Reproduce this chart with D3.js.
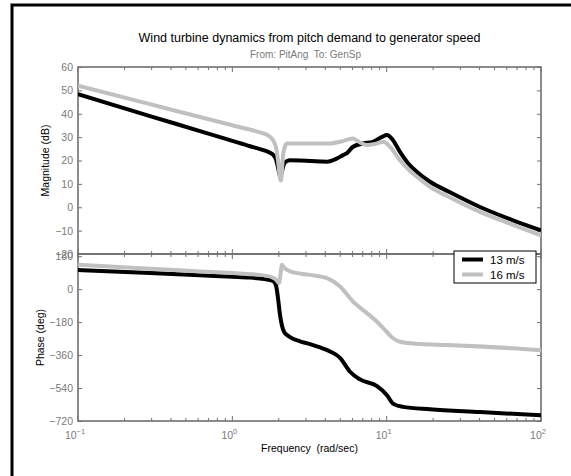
<!DOCTYPE html>
<html><head><meta charset="utf-8">
<script src="https://cdn.jsdelivr.net/npm/d3@7"></script>
<style>body{margin:0;background:#fff}text{font-family:"Liberation Sans",Arial,sans-serif}</style>
</head><body><svg id="c" width="571" height="476"></svg>
<script>
// Bode diagram: pitch demand -> generator speed, two wind speeds
const seriesNames = ["13 m/s", "16 m/s"];
const seriesColors = ["#000000", "#c0c0c0"];

// magnitude (dB) vs frequency (rad/s)
const magFreq13 = [0.1,0.2927,0.6171,1.0,1.302,1.511,1.628,1.754,1.834,1.919,1.977,2.036,2.098,2.161,2.261,2.364,2.745,3.186,3.700,4.106,4.767,5.213,5.534,6.051,7.025,8.153,9.328,10.05,10.99,12.20,13.55,15.73,19.09,25.73,40.26,65.87,100];
const mag13 =     [48.4,39.0,32.6,28.4,26.1,24.9,24.2,23.3,22.5,20.5,17.0,13.5,15.5,18.5,19.8,20.1,20.0,19.8,19.6,19.5,20.9,22.3,23.2,25.9,27.3,28.0,30.1,30.9,28.7,23.7,19.4,15.1,10.9,6.4,0.1,-5.6,-9.9];

const magFreq16 = [0.1,0.2927,0.6171,1.0,1.302,1.511,1.678,1.834,1.919,1.977,2.036,2.067,2.098,2.130,2.194,2.261,3.186,4.295,4.986,6.051,6.718,7.457,8.659,9.469,10.51,12.20,14.17,16.44,19.09,25.73,40.26,65.87,100];
const mag16 =     [52.0,44.1,38.6,35.1,33.2,32.0,31.0,28.7,25.5,20.0,12.5,11.5,16.0,22.0,26.0,27.3,27.3,27.3,28.0,29.4,27.7,26.6,27.3,28.0,25.9,20.1,15.5,12.0,8.7,4.2,-2.0,-7.5,-12.0];

// phase (deg) vs frequency (rad/s)
const phFreq13 = [0.1,0.2927,0.6171,1.0,1.302,1.511,1.678,1.834,1.919,1.977,2.036,2.098,2.161,2.261,2.364,2.745,3.186,3.700,4.295,4.986,5.786,6.718,8.659,10.05,10.99,12.76,19.09,40.26,100];
const phase13 =  [105,88,76,68,63,58,53,45,20,-50,-140,-200,-232,-250,-262,-285,-300,-318,-340,-375,-451,-493,-530,-579,-625,-643,-656,-671,-689];

const phFreq16 = [0.1,0.2927,0.6171,1.0,1.302,1.511,1.628,1.807,1.919,1.977,2.006,2.051,2.098,2.161,2.364,3.186,4.106,4.986,6.051,7.457,8.659,9.755,10.99,12.20,16.44,24.60,65.87,100];
const phase16 =  [133,112,97,88,82,78,74,65,52,38,33,80,133,118,97,78,60,14,-68,-131,-178,-223,-268,-287,-300,-305,-323,-333];

const magTicks = [60,50,40,30,20,10,0,-10,-20];
const phaseTicks = [180,0,-180,-360,-540,-720];
const decades = [-1,0,1,2];

const svg = d3.select("#c");
const W = 571, H = 476;
svg.append("rect").attr("width", W).attr("height", H).attr("fill", "#fff");

// outer frame
svg.append("path").attr("d", "M12,480V5H580").attr("fill", "none")
  .attr("stroke", "#000").attr("stroke-width", 3);

const L = 78, R = 541, T = 67, MID = 254, B = 421;
const axisCol = "#707070", tickTextCol = "#7a7a7a";

const x = d3.scaleLog().domain([0.1, 100]).range([L, R]);
const yMag = d3.scaleLinear().domain([-20, 60]).range([MID, T]);
const yPh = d3.scaleLinear().domain([-720, 192]).range([B, MID]);

svg.append("defs").append("clipPath").attr("id", "clipMag")
  .append("rect").attr("x", L).attr("y", T).attr("width", R - L).attr("height", MID - T);
svg.select("defs").append("clipPath").attr("id", "clipPh")
  .append("rect").attr("x", L).attr("y", MID).attr("width", R - L).attr("height", B - MID);

function panel(y, ticks, top, bottom) {
  const g = svg.append("g");
  // y ticks, left and right, pointing inward
  g.append("g").attr("transform", `translate(${L},0)`)
    .call(d3.axisLeft(y).tickValues(ticks).tickSizeInner(-4).tickSizeOuter(0).tickPadding(5)
      .tickFormat(d => d < 0 ? "\u2212" + Math.abs(d) : d))
    .call(a => { a.select(".domain").remove();
      a.selectAll("line").attr("stroke", axisCol);
      a.selectAll("text").attr("fill", tickTextCol).attr("font-size", 10.5).attr("font-family", null); });
  g.append("g").attr("transform", `translate(${R},0)`)
    .call(d3.axisRight(y).tickValues(ticks).tickSizeInner(-4).tickSizeOuter(0).tickFormat(""))
    .call(a => { a.select(".domain").remove(); a.selectAll("line").attr("stroke", axisCol); });
  // x ticks (log minor + major) top and bottom, inward
  const minor = [], major = [];
  decades.forEach(d => {
    major.push(Math.pow(10, d));
    if (d < 2) for (let m = 2; m <= 9; m++) minor.push(m * Math.pow(10, d));
  });
  [[top, 1], [bottom, -1]].forEach(([yy, dir]) => {
    g.selectAll(null).data(minor).join("line")
      .attr("x1", d => x(d)).attr("x2", d => x(d))
      .attr("y1", yy).attr("y2", yy + dir * 3).attr("stroke", axisCol);
    g.selectAll(null).data(major).join("line")
      .attr("x1", d => x(d)).attr("x2", d => x(d))
      .attr("y1", yy).attr("y2", yy + dir * 5).attr("stroke", axisCol);
  });
  g.append("rect").attr("x", L).attr("y", top).attr("width", R - L).attr("height", bottom - top)
    .attr("fill", "none").attr("stroke", axisCol).attr("stroke-width", 1.6);
}
panel(yMag, magTicks, T, MID);
panel(yPh, phaseTicks, MID, B);

function curve(fr, vals, y, color, clip) {
  const pts = fr.map((f, i) => [f, vals[i]]);
  svg.append("path").datum(pts)
    .attr("clip-path", `url(#${clip})`)
    .attr("fill", "none").attr("stroke", color).attr("stroke-width", 4)
    .attr("stroke-linejoin", "round")
    .attr("d", d3.line().x(d => x(d[0])).y(d => y(d[1])).curve(d3.curveMonotoneX));
}
curve(magFreq13, mag13, yMag, seriesColors[0], "clipMag");
curve(magFreq16, mag16, yMag, seriesColors[1], "clipMag");
curve(phFreq13, phase13, yPh, seriesColors[0], "clipPh");
curve(phFreq16, phase16, yPh, seriesColors[1], "clipPh");

// x tick labels 10^n
decades.forEach(d => {
  const t = svg.append("text").attr("x", x(Math.pow(10, d)) - 3).attr("y", 439)
    .attr("text-anchor", "middle").attr("fill", tickTextCol).attr("font-size", 10.5);
  t.append("tspan").text("10");
  t.append("tspan").attr("dy", -5).attr("font-size", 7.5).text(d < 0 ? "\u2212" + Math.abs(d) : d);
});

// titles and axis labels
const cx = (L + R) / 2;
svg.append("text").attr("x", cx).attr("y", 42).attr("text-anchor", "middle")
  .attr("font-size", 12.5).attr("fill", "#000")
  .text("Wind turbine dynamics from pitch demand to generator speed");
svg.append("text").attr("x", cx - 4).attr("y", 58).attr("text-anchor", "middle")
  .attr("font-size", 10).attr("fill", "#7a7a7a").attr("xml:space", "preserve")
  .text("From: PitAng  To: GenSp");
svg.append("text").attr("x", cx).attr("y", 452).attr("text-anchor", "middle")
  .attr("font-size", 10.5).attr("fill", "#000").attr("xml:space", "preserve")
  .text("Frequency  (rad/sec)");
svg.append("text").attr("transform", `translate(49,${(T + MID) / 2}) rotate(-90)`)
  .attr("text-anchor", "middle").attr("font-size", 10.5).attr("fill", "#000")
  .text("Magnitude (dB)");
svg.append("text").attr("transform", `translate(44,${(MID + B) / 2}) rotate(-90)`)
  .attr("text-anchor", "middle").attr("font-size", 10.5).attr("fill", "#000")
  .text("Phase (deg)");

// legend
const lg = svg.append("g");
lg.append("rect").attr("x", 454).attr("y", 251).attr("width", 82).attr("height", 32)
  .attr("fill", "#fff").attr("stroke", "#000").attr("stroke-width", 1);
seriesNames.forEach((n, i) => {
  const yy = 259.5 + i * 15;
  lg.append("line").attr("x1", 462).attr("x2", 483).attr("y1", yy).attr("y2", yy)
    .attr("stroke", seriesColors[i]).attr("stroke-width", 4);
  lg.append("text").attr("x", 490).attr("y", yy + 4).attr("font-size", 11.5)
    .attr("fill", "#000").text(n);
});
</script></body></html>
